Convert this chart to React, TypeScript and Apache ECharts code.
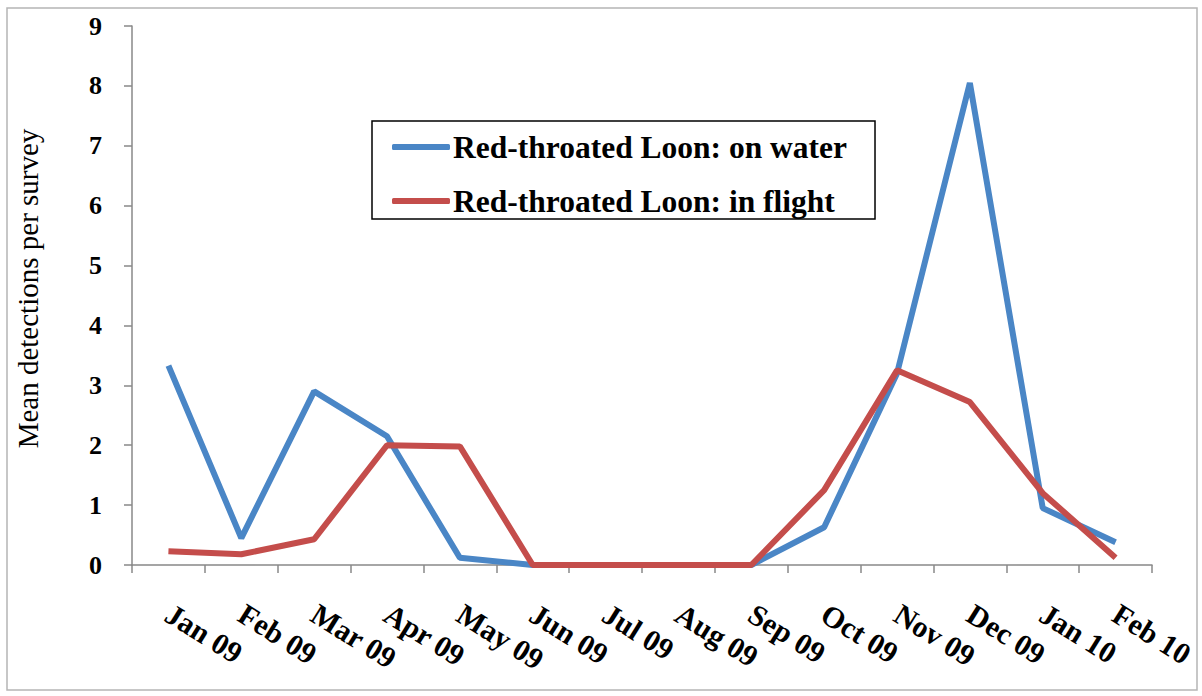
import React, { useEffect, useRef } from "react";
import * as echarts from "echarts";

const months = [
  "Jan 09", "Feb 09", "Mar 09", "Apr 09", "May 09", "Jun 09", "Jul 09",
  "Aug 09", "Sep 09", "Oct 09", "Nov 09", "Dec 09", "Jan 10", "Feb 10",
];
const onWater = [3.33, 0.45, 2.9, 2.15, 0.12, 0, 0, 0, 0, 0.63, 3.2, 8.05, 0.95, 0.38];
const inFlight = [0.23, 0.18, 0.43, 2.0, 1.98, 0, 0, 0, 0, 1.25, 3.25, 2.72, 1.2, 0.12];
const seriesNames = ["Red-throated Loon: on water", "Red-throated Loon: in flight"];
const yTicks = { min: 0, max: 9, interval: 1 };
const yTitle = "Mean detections per survey";

const FONT = '"Liberation Serif", "Times New Roman", serif';
const BLUE = "#4A86C6";
const RED = "#C44D4B";

export default function App() {
  const ref = useRef<HTMLDivElement>(null);
  useEffect(() => {
    if (!ref.current) return;
    const chart = echarts.init(ref.current, null, { renderer: "svg" });
    chart.setOption({
      animation: false,
      backgroundColor: "#ffffff",
      grid: { left: 132, right: 50, top: 26, bottom: 131 },
      graphic: [
        {
          type: "rect",
          shape: { x: 7, y: 8, width: 1190, height: 682 },
          style: { fill: "none", stroke: "#b5b5b5", lineWidth: 1.5 },
          silent: true,
        },
      ],
      legend: {
        orient: "vertical",
        left: 372,
        top: 121,
        padding: [10, 28, 2, 20],
        itemWidth: 58,
        itemHeight: 6,
        itemGap: 22,
        icon: "roundRect",
        borderColor: "#000",
        borderWidth: 1.5,
        backgroundColor: "#fff",
        textStyle: {
          fontFamily: FONT,
          fontWeight: "bold",
          fontSize: 31.5,
          lineHeight: 30,
          color: "#000",
          padding: [0, 0, 0, -2],
        },
        data: seriesNames,
      },
      xAxis: {
        type: "category",
        data: months,
        boundaryGap: true,
        axisLine: { show: true, lineStyle: { color: "#888", width: 1.5 } },
        axisTick: { show: true, length: 8, lineStyle: { color: "#888", width: 1.5 } },
        axisLabel: {
          interval: 0,
          rotate: -32,
          margin: 46,
          fontFamily: FONT,
          fontWeight: "bold",
          fontSize: 30,
          color: "#000",
        },
        splitLine: { show: false },
      },
      yAxis: {
        type: "value",
        min: yTicks.min,
        max: yTicks.max,
        interval: yTicks.interval,
        name: yTitle,
        nameLocation: "middle",
        nameGap: 90,
        nameTextStyle: {
          fontFamily: FONT,
          fontSize: 29,
          color: "#000",
          padding: [0, 0, 0, 14],
        },
        axisLine: { show: true, lineStyle: { color: "#888", width: 1.5 } },
        axisTick: { show: true, length: 8, lineStyle: { color: "#888", width: 1.5 } },
        axisLabel: {
          margin: 30,
          fontFamily: FONT,
          fontWeight: "bold",
          fontSize: 26,
          color: "#000",
        },
        splitLine: { show: false },
      },
      series: [
        {
          name: seriesNames[0],
          type: "line",
          data: onWater,
          symbol: "none",
          color: BLUE,
          lineStyle: { color: BLUE, width: 6 },
          z: 2,
        },
        {
          name: seriesNames[1],
          type: "line",
          data: inFlight,
          symbol: "none",
          color: RED,
          lineStyle: { color: RED, width: 6 },
          z: 3,
        },
      ],
    });
    return () => chart.dispose();
  }, []);
  return (
    <div
      ref={ref}
      style={{ position: "fixed", left: 0, top: 0, width: 1202, height: 696 }}
    />
  );
}
